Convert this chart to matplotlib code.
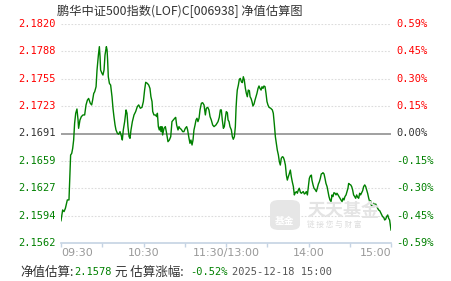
import matplotlib
matplotlib.use("Agg")
import matplotlib.pyplot as plt
from matplotlib.patches import FancyBboxPatch

# minutes since 09:30 (trading time, lunch break removed) and estimated change in %
minutes = [
    0.0, 1.2, 2.2, 3.2, 4.6, 5.8, 6.3, 7.0, 7.8, 8.5, 9.2, 9.9, 10.7, 11.6, 12.4, 12.8,
    13.8, 14.8, 16.0, 17.2, 18.2, 19.2, 20.1, 21.3, 22.3, 23.0, 23.8, 24.5, 25.5, 26.2,
    27.2, 27.9, 28.4, 28.8, 29.8, 30.5, 31.3, 32.0, 33.0, 33.5, 33.9, 34.4, 35.2, 36.1,
    37.1, 37.8, 38.5, 39.3, 40.0, 41.0, 41.9, 42.9, 43.9, 44.6, 45.3, 46.3, 47.3, 48.0,
    48.7, 49.5, 50.2, 50.9, 51.9, 53.1, 54.3, 55.5, 56.5, 57.7, 58.9,
    59.9, 60.8, 61.6, 62.8, 63.8, 64.7, 65.4, 66.2, 66.7, 67.6, 68.6, 69.6, 70.1, 70.8,
    71.5, 72.2, 72.7, 73.4, 73.9, 74.9, 75.9, 76.8, 77.8, 78.8, 79.8, 80.7, 81.7, 82.7,
    83.4, 84.1, 85.1, 85.8, 86.5, 87.5, 88.5, 89.4, 90.4, 91.4, 92.1, 93.1, 93.8, 94.5,
    95.3, 96.0, 96.7, 97.5, 98.2, 98.9, 99.6, 100.4, 101.1, 102.1, 103.0, 104.0, 105.0,
    105.7, 106.7, 107.6, 108.4, 109.3, 110.3, 111.3, 112.7, 114.2, 115.1, 115.9, 116.6,
    117.3, 118.1, 118.8, 119.5, 120.2, 121.0,
    121.5, 122.2, 122.9, 123.9, 124.6, 125.3, 126.1, 126.8, 127.3, 127.8, 128.2, 129.0,
    129.7, 130.4, 131.2, 131.9, 132.6, 133.3, 134.1, 134.8, 135.5, 136.2, 137.0, 137.5,
    138.2, 138.9, 139.6, 140.4, 141.1, 141.8, 142.5, 143.3, 144.0, 144.7, 145.5, 146.2,
    146.9, 147.6, 148.4, 149.1, 149.8, 150.5, 151.3, 152.5, 153.7, 154.4, 155.2, 155.9,
    156.6, 157.3, 158.1, 158.8, 159.5, 160.2, 161.0, 161.7, 162.4, 163.2, 163.9, 164.6,
    165.3, 166.1, 166.8, 167.5, 168.2, 169.0, 169.7, 170.4, 171.2, 171.9, 172.6, 173.3,
    174.1, 174.8, 175.5, 176.2, 177.0, 177.7, 178.4, 179.2, 179.9, 180.6, 181.3, 182.1,
    182.5, 183.3, 184.0, 185.0, 185.7, 186.4, 187.2, 187.9, 188.6, 189.3, 190.1, 190.5,
    191.3, 192.0, 192.7, 193.5, 194.2, 194.9, 195.6, 196.4, 197.1, 197.8, 198.5, 199.3,
    200.0, 200.7, 201.5, 202.2, 202.9, 203.6, 204.4, 205.1, 205.8, 206.5, 207.3, 208.0,
    208.7, 209.2, 209.9, 210.7, 211.4, 212.1, 212.8, 213.6, 214.3, 215.0, 215.8, 216.5,
    217.2, 217.9, 218.7, 219.4, 220.1, 220.9, 221.6, 222.3, 223.0, 223.8, 224.5, 225.2,
    225.9, 226.7, 227.4, 228.1, 228.9, 229.6, 230.3, 231.0, 231.8, 232.5, 233.2, 233.9,
    234.7, 235.4, 236.1, 236.8, 237.6, 238.3, 239.0, 240.0,
]
change_pct = [
    -0.470, -0.412, -0.421, -0.403, -0.358, -0.358, -0.260, -0.116, -0.107, -0.080, -0.035, 0.055, 0.109, 0.132, 0.073, 0.028,
    0.073, 0.091, 0.100, 0.100, 0.154, 0.180, 0.189, 0.163, 0.154, 0.180, 0.216, 0.225, 0.252, 0.342,
    0.423, 0.468, 0.414, 0.342, 0.324, 0.315, 0.342, 0.423, 0.468, 0.450, 0.396, 0.306, 0.270, 0.261,
    0.198, 0.136, 0.091, 0.046, 0.019, 0.001, -0.004, 0.010, -0.013, -0.035, 0.019, 0.064, 0.127, 0.109,
    0.037, -0.017, -0.026, 0.019, 0.064, 0.100, 0.118, 0.145, 0.154, 0.136, 0.141,
    0.172, 0.234, 0.276, 0.270, 0.261, 0.243, 0.198, 0.172, 0.118, 0.100, 0.100, 0.091, 0.109, 0.037,
    0.019, 0.037, 0.010, 0.037, -0.008, 0.028, 0.037, 0.001, -0.044, -0.035, -0.017, 0.064, 0.073, 0.082,
    0.087, 0.046, 0.019, 0.037, 0.028, 0.022, 0.010, 0.010, 0.028, 0.037, 0.019, -0.026, -0.053, -0.035,
    -0.062, -0.035, 0.019, 0.046, 0.073, 0.082, 0.064, 0.082, 0.127, 0.163, 0.166, 0.154, 0.100,
    0.136, 0.141, 0.127, 0.091, 0.073, 0.046, 0.037, 0.046, 0.064, 0.087, 0.127, 0.127,
    0.073, 0.028, 0.037, 0.082, 0.118, 0.112,
    0.073, 0.064, 0.037, 0.019, -0.017, -0.031, -0.017, 0.037, 0.136, 0.198, 0.234, 0.261,
    0.292, 0.297, 0.279, 0.274, 0.306, 0.288, 0.243, 0.216, 0.198, 0.234, 0.231, 0.198,
    0.189, 0.172, 0.148, 0.159, 0.180, 0.198, 0.216, 0.243, 0.256, 0.243, 0.234, 0.252,
    0.243, 0.256, 0.252, 0.216, 0.172, 0.154, 0.141, 0.136, 0.127, 0.109, 0.046, -0.017,
    -0.053, -0.089, -0.116, -0.152, -0.170, -0.134, -0.125, -0.128, -0.143, -0.170, -0.224, -0.251,
    -0.233, -0.215, -0.197, -0.233, -0.260, -0.286, -0.331, -0.319, -0.313, -0.322, -0.304, -0.295,
    -0.317, -0.322, -0.317, -0.313, -0.326, -0.322, -0.313, -0.331, -0.286, -0.242, -0.229, -0.224,
    -0.251, -0.277, -0.295, -0.304, -0.313, -0.295, -0.272, -0.260, -0.242, -0.218, -0.215, -0.211,
    -0.218, -0.242, -0.269, -0.286, -0.313, -0.340, -0.358, -0.367, -0.331, -0.340, -0.319, -0.322,
    -0.331, -0.322, -0.331, -0.340, -0.349, -0.358, -0.367, -0.349, -0.358, -0.340, -0.331, -0.313,
    -0.295, -0.269, -0.274, -0.277, -0.286, -0.304, -0.331, -0.340, -0.349, -0.331, -0.344, -0.349,
    -0.322, -0.331, -0.319, -0.308, -0.286, -0.277, -0.286, -0.304, -0.322, -0.349, -0.367, -0.362,
    -0.394, -0.385, -0.376, -0.385, -0.380, -0.394, -0.403, -0.412, -0.416, -0.427, -0.439, -0.448,
    -0.452, -0.466, -0.462, -0.448, -0.439, -0.457, -0.466, -0.520,
]

pct_ticks = [0.59, 0.4425, 0.295, 0.1475, 0.0, -0.1475, -0.295, -0.4425, -0.59]
nav_labels = ["2.1820", "2.1788", "2.1755", "2.1723", "2.1691", "2.1659", "2.1627", "2.1594", "2.1562"]
pct_labels = ["0.59%", "0.45%", "0.30%", "0.15%", "0.00%", "-0.15%", "-0.30%", "-0.45%", "-0.59%"]
time_ticks = [0, 60, 120, 180, 240]
time_labels = ["09:30", "10:30", "11:30/13:00", "14:00", "15:00"]

title = "鹏华中证500指数(LOF)C[006938] 净值估算图"
nav_est = "2.1578"
chg_est = "-0.52%"
stamp = "2025-12-18 15:00"

RED = "#ff0000"
GREEN = "#008000"
DARK = "#333333"

cjk = ["Noto Sans CJK SC", "DejaVu Sans"]
mono = "DejaVu Sans Mono"

W, H = 451, 281
fig = plt.figure(figsize=(W / 100, H / 100), dpi=100)
ax = fig.add_axes([61 / W, 38 / H, 330 / W, 219 / H])

for p in pct_ticks:
    if p == 0:
        ax.axhline(p, color="#999999", lw=1.3, zorder=2)
    elif p != -0.59:
        ax.axhline(p, color="#dcdcdc", lw=0.8, ls=(0, (1.5, 1.5)), zorder=1)

ax.plot(minutes, change_pct, color=GREEN, lw=1.0, zorder=3)

ax.set_xlim(0, 240)
ax.set_ylim(-0.59, 0.59)

for s in ["top", "left", "right"]:
    ax.spines[s].set_visible(False)
ax.spines["bottom"].set_color("#c5d3e3")
ax.spines["bottom"].set_linewidth(1.2)

ax.set_xticks(range(0, 241, 30))
ax.set_xticklabels([""] * 9)
ax.tick_params(axis="x", length=3, color="#c5d3e3", width=1)
ax.set_yticks([])

for t, lab in zip(time_ticks, time_labels):
    ha = "left" if t == 0 else ("right" if t == 240 else "center")
    ax.text(t, -0.615, lab, ha=ha, va="top", fontsize=8, color="#999999",
            family="DejaVu Sans", transform=ax.transData, clip_on=False)

def lab_color(p):
    if p > 0:
        return RED
    if p < 0:
        return GREEN
    return DARK

for p, nl, pl in zip(pct_ticks, nav_labels, pct_labels):
    c = lab_color(p)
    ax.annotate(nl, xy=(0, p), xycoords=("axes fraction", "data"), xytext=(-4, 0),
                textcoords="offset points", ha="right", va="center",
                fontsize=7.5, family=mono, color=c)
    ax.annotate(pl, xy=(1, p), xycoords=("axes fraction", "data"), xytext=(4, 0),
                textcoords="offset points", ha="left", va="center",
                fontsize=7.5, family=mono, color=c)

# title
fig.text(57 / W, 1 - 11 / H, title, ha="left", va="center", fontsize=8.8,
         family=cjk, color=DARK)

# watermark
logo = FancyBboxPatch((270 / W, 1 - 230 / H), 30 / W, 30 / H,
                      boxstyle="round,pad=0,rounding_size=0.02",
                      transform=fig.transFigure, facecolor="#e6e6e6",
                      edgecolor="none", zorder=0)
fig.patches.append(logo)
fig.text(285 / W, 1 - 221 / H, "基金", ha="center", va="center", fontsize=7,
         family=cjk, color="white", weight="bold")
fig.text(307 / W, 1 - 210 / H, "天天基金", ha="left", va="center", fontsize=13,
         family=cjk, color="#e4e4e4", weight="bold", zorder=0)
fig.text(307 / W, 1 - 225 / H, "链 接 您 与 财 富", ha="left", va="center",
         fontsize=5.5, family=cjk, color="#dddddd", zorder=0)

# footer
fy = 1 - 272 / H
fig.text(20 / W, fy, "净值估算:", ha="left", va="center", fontsize=9, family=cjk, color=DARK)
fig.text(74 / W, fy, nav_est, ha="left", va="center", fontsize=7.5, family=mono, color=GREEN)
fig.text(115 / W, fy, "元 估算涨幅:", ha="left", va="center", fontsize=9, family=cjk, color=DARK)
fig.text(190 / W, fy, chg_est, ha="left", va="center", fontsize=7.5, family=mono, color=GREEN)
fig.text(232 / W, fy, stamp, ha="left", va="center", fontsize=7.5, family=mono, color="#555555")

fig.savefig("out.png", dpi=100)
